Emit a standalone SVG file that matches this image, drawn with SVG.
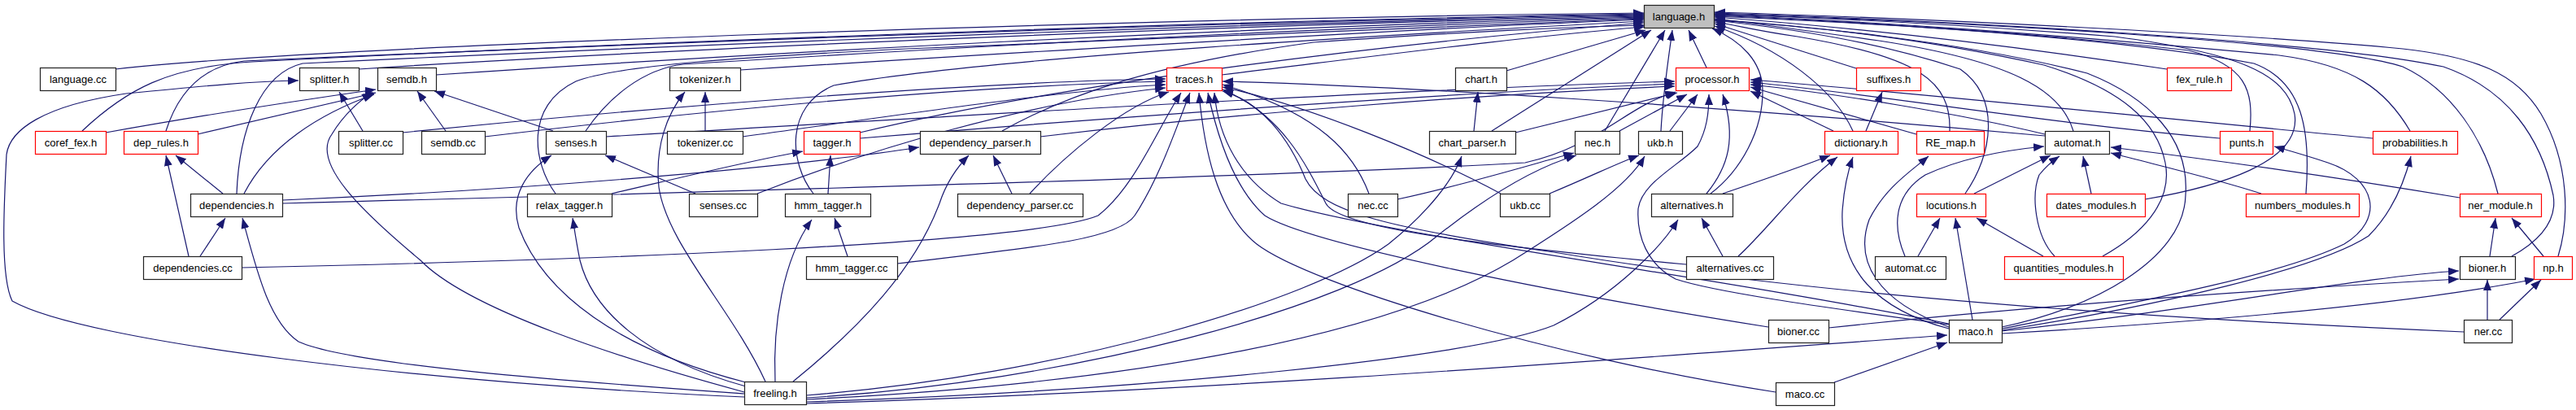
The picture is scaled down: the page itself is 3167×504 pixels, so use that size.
<svg xmlns="http://www.w3.org/2000/svg" width="3167" height="504" viewBox="0 0 3167 504">
<defs>
<marker id="ah" viewBox="0 0 13 10" refX="13" refY="5" markerWidth="13" markerHeight="10" markerUnits="userSpaceOnUse" orient="auto">
<path d="M0,0 L13,5 L0,10 z" fill="#191970"/>
</marker>
<style>
.e{fill:none;stroke:#191970;stroke-width:1.2;marker-end:url(#ah)}
.b{fill:#fff;stroke:#222;stroke-width:1.2}
.r{fill:#fff;stroke:#f00;stroke-width:1.2}
.g{fill:#bfbfbf;stroke:#222;stroke-width:1.2}
text{font-family:"Liberation Sans",Arial,sans-serif;font-size:13px;fill:#000;text-anchor:middle}
</style>
</defs>
<rect width="3167" height="504" fill="#fff"/>
<g id="edges">
<path class="e" d="M142 85 C410 55,1420 22,2021 16"/>
<path class="e" d="M101 161 C155 110,207 82,310 76 C820 50,1520 25,2021 17"/>
<path class="e" d="M204 161 C217 120,243 82,300 75 C820 52,1520 26,2021 18"/>
<path class="e" d="M291 238 C294 160,320 90,372 78 C820 56,1520 28,2021 19"/>
<path class="e" d="M441 85 C820 60,1520 30,2021 20"/>
<path class="e" d="M536 92 C920 66,1520 33,2021 21"/>
<path class="e" d="M720 161 C748 120,790 85,840 79 C1210 56,1620 34,2021 22"/>
<path class="e" d="M683 238 C655 200,645 130,708 100 C760 80,915 70,1115 60 C1520 42,1820 32,2021 23"/>
<path class="e" d="M910 86 C1320 60,1720 36,2021 24"/>
<path class="e" d="M1000 238 C970 200,965 130,1025 105 C1215 70,1720 42,2021 26"/>
<path class="e" d="M1057 163 C1320 100,1720 52,2021 28"/>
<path class="e" d="M1232 161 C1305 120,1410 80,1615 52 C1815 38,1915 34,2022 31"/>
<path class="e" d="M1502 92 C1715 66,1865 46,2022 33"/>
<path class="e" d="M1852 87 L2023 37"/>
<path class="e" d="M1834 161 L2030 37"/>
<path class="e" d="M1973 161 L2047 37"/>
<path class="e" d="M2042 161 C2044 120,2050 80,2056 37"/>
<path class="e" d="M2098 83 L2076 37"/>
<path class="e" d="M2103 238 C2140 210,2168 160,2167 110 C2166 75,2140 50,2105 35"/>
<path class="e" d="M2278 161 C2255 110,2190 60,2108 32"/>
<path class="e" d="M2397 161 C2399 100,2360 70,2210 45 C2160 38,2135 31,2108 27"/>
<path class="e" d="M2282 84 L2108 29"/>
<path class="e" d="M2549 161 C2534 110,2472 75,2310 50 C2210 36,2160 29,2108 23"/>
<path class="e" d="M2416 238 C2450 190,2460 120,2410 85 C2310 52,2210 36,2108 25"/>
<path class="e" d="M2664 85 C2500 60,2310 36,2108 21"/>
<path class="e" d="M2766 161 C2771 110,2761 80,2691 62 C2500 40,2310 29,2108 20"/>
<path class="e" d="M2835 238 C2841 160,2831 100,2771 78 C2600 46,2310 28,2108 19"/>
<path class="e" d="M2637 245 C2725 230,2831 200,2821 140 C2811 90,2751 65,2600 45 C2410 30,2260 22,2108 18"/>
<path class="e" d="M2963 161 C2933 110,2893 80,2802 68 C2500 40,2310 27,2108 18"/>
<path class="e" d="M3071 238 C3054 170,3014 110,2954 82 C2854 50,2410 27,2108 17"/>
<path class="e" d="M3088 315 C3124 295,3144 270,3139 240 C3124 170,3084 110,3004 82 C2854 50,2410 26,2108 16"/>
<path class="e" d="M3145 315 C3159 270,3159 200,3124 140 C3094 90,3044 70,2954 60 C2804 45,2410 24,2108 15"/>
<path class="e" d="M2585 315 C2630 290,2672 250,2662 200 C2652 150,2610 110,2513 80 C2360 46,2210 31,2108 24"/>
<path class="e" d="M2461 402 C2570 380,2685 320,2687 240 C2692 170,2642 120,2566 90 C2410 50,2210 31,2108 25"/>
<path class="e" d="M130 163 C258 140,392 120,462 110"/>
<path class="e" d="M243 165 C330 145,413 125,462 114"/>
<path class="e" d="M300 238 C330 180,392 140,460 116"/>
<path class="e" d="M680 161 L534 112"/>
<path class="e" d="M548 161 L513 112"/>
<path class="e" d="M915 482 C760 440,575 380,517 320 C445 260,382 200,408 165 C423 140,444 122,458 114"/>
<path class="e" d="M446 161 L417 113"/>
<path class="e" d="M915 488 C515 470,103 420,15 370 C0 340,5 250,8 190 C12 160,52 130,155 115 C258 105,310 100,367 99"/>
<path class="e" d="M274 238 L216 191"/>
<path class="e" d="M232 315 L204 191"/>
<path class="e" d="M246 315 L277 268"/>
<path class="e" d="M915 484 C720 470,434 450,367 420 C330 395,315 330,298 268"/>
<path class="e" d="M347 246 C720 230,1010 200,1130 181"/>
<path class="e" d="M867 161 L867 113"/>
<path class="e" d="M941 469 C900 380,820 300,810 230 C805 180,820 140,842 113"/>
<path class="e" d="M855 238 L744 191"/>
<path class="e" d="M917 470 C760 430,668 360,638 280 C626 240,648 210,678 191"/>
<path class="e" d="M752 238 C830 220,910 200,987 186"/>
<path class="e" d="M917 475 C790 440,728 380,713 320 C708 295,706 280,704 268"/>
<path class="e" d="M1018 238 L1021 191"/>
<path class="e" d="M1042 315 L1026 268"/>
<path class="e" d="M953 469 C950 400,962 320,998 270"/>
<path class="e" d="M1244 238 L1221 191"/>
<path class="e" d="M975 469 C1060 400,1125 330,1155 250 C1165 220,1182 200,1191 191"/>
<path class="e" d="M1812 161 L1817 113"/>
<path class="e" d="M991 486 C1310 460,1610 370,1707 300 C1757 260,1787 220,1797 192"/>
<path class="e" d="M1718 245 C1810 225,1890 200,1935 188"/>
<path class="e" d="M991 489 C1310 470,1660 380,1767 290 C1830 240,1890 205,1938 191"/>
<path class="e" d="M1905 238 C1960 215,1990 200,2015 191"/>
<path class="e" d="M991 491 C1410 470,1710 410,1860 320 C1940 270,2000 230,2022 192"/>
<path class="e" d="M2118 315 L2092 268"/>
<path class="e" d="M991 494 C1410 480,1810 440,1910 400 C1990 360,2045 300,2063 270"/>
<path class="e" d="M2118 238 C2165 222,2215 205,2250 191"/>
<path class="e" d="M2137 315 C2175 280,2210 230,2259 193"/>
<path class="e" d="M745 168 C1215 140,1720 110,2059 100"/>
<path class="e" d="M1057 170 C1420 140,1820 112,2059 103"/>
<path class="e" d="M1279 168 C1515 140,1815 116,2059 106"/>
<path class="e" d="M347 250 C920 235,1615 215,1875 200 C1965 180,2000 130,2060 113"/>
<path class="e" d="M1863 163 L2062 114"/>
<path class="e" d="M1991 161 L2074 116"/>
<path class="e" d="M2053 161 L2087 116"/>
<path class="e" d="M2098 238 C2125 205,2135 170,2118 116"/>
<path class="e" d="M2396 399 C2260 380,2110 360,2060 343 C2025 325,2012 290,2014 257 C2018 225,2062 205,2087 180 C2098 160,2101 140,2101 116"/>
<path class="e" d="M2254 161 L2152 112"/>
<path class="e" d="M2356 165 L2152 107"/>
<path class="e" d="M2514 165 C2410 140,2260 115,2152 104"/>
<path class="e" d="M2729 170 C2500 150,2310 116,2152 101"/>
<path class="e" d="M2917 170 C2600 140,2310 110,2152 98"/>
<path class="e" d="M495 163 C820 130,1215 100,1433 97"/>
<path class="e" d="M596 168 C915 130,1215 105,1433 100"/>
<path class="e" d="M913 168 C1115 140,1315 110,1433 104"/>
<path class="e" d="M931 238 C1065 185,1265 125,1433 108"/>
<path class="e" d="M1266 238 C1310 190,1382 130,1437 113"/>
<path class="e" d="M297 329 C720 320,1265 300,1350 265 C1395 230,1422 160,1452 114"/>
<path class="e" d="M1103 324 C1265 305,1375 295,1395 265 C1425 220,1445 160,1463 114"/>
<path class="e" d="M1845 238 C1755 190,1610 130,1503 107"/>
<path class="e" d="M1683 238 C1665 190,1625 140,1503 104"/>
<path class="e" d="M2514 167 C2110 130,1710 105,1503 100"/>
<path class="e" d="M2073 325 C1810 300,1645 280,1630 250 C1605 200,1575 140,1503 110"/>
<path class="e" d="M2174 402 C1910 360,1610 300,1555 265 C1515 230,1495 160,1485 114"/>
<path class="e" d="M2183 482 C1910 440,1610 350,1545 300 C1495 260,1480 180,1474 114"/>
<path class="e" d="M3029 408 C2610 390,2210 360,1910 310 C1705 280,1625 260,1605 220 C1585 170,1550 125,1503 112"/>
<path class="e" d="M2396 398 C2110 340,1710 290,1575 250 C1525 220,1498 170,1493 114"/>
<path class="e" d="M2294 161 L2314 113"/>
<path class="e" d="M2342 315 C2327 280,2327 240,2367 215 C2410 195,2460 185,2513 180"/>
<path class="e" d="M2358 315 L2385 268"/>
<path class="e" d="M2512 315 L2430 268"/>
<path class="e" d="M2526 315 C2502 290,2497 240,2507 215 C2515 205,2523 198,2532 192"/>
<path class="e" d="M2427 238 L2521 191"/>
<path class="e" d="M2571 238 L2561 192"/>
<path class="e" d="M2780 238 C2725 220,2660 205,2595 188"/>
<path class="e" d="M3024 243 C2855 215,2710 195,2595 181"/>
<path class="e" d="M991 496 C1510 480,2010 440,2394 412"/>
<path class="e" d="M2255 470 L2394 421"/>
<path class="e" d="M2396 404 C2305 380,2262 330,2265 260 C2267 230,2272 210,2278 193"/>
<path class="e" d="M2396 402 C2306 370,2280 320,2298 270 C2318 230,2350 210,2371 192"/>
<path class="e" d="M2425 393 L2404 268"/>
<path class="e" d="M2461 404 C2610 375,2801 340,2882 300 C2932 270,2922 220,2862 200 C2832 190,2817 186,2796 180"/>
<path class="e" d="M2461 406 C2660 375,2851 330,2912 290 C2942 260,2957 220,2964 192"/>
<path class="e" d="M2461 407 C2710 380,2902 340,3023 333"/>
<path class="e" d="M2248 403 C2510 375,2805 355,3023 343"/>
<path class="e" d="M2461 410 C2810 390,3005 365,3117 343"/>
<path class="e" d="M3058 393 L3058 344"/>
<path class="e" d="M3073 393 L3124 344"/>
<path class="e" d="M3061 315 L3068 268"/>
<path class="e" d="M3127 315 L3088 268"/>
</g>
<g id="n_language_h"><rect class="g" x="2021.5" y="6.5" width="86" height="28"/><text x="2064" y="25">language.h</text></g>
<g id="n_language_cc"><rect class="b" x="49.5" y="83.5" width="93" height="28"/><text x="96" y="102">language.cc</text></g>
<g id="n_splitter_h"><rect class="b" x="368.5" y="83.5" width="73" height="28"/><text x="405" y="102">splitter.h</text></g>
<g id="n_semdb_h"><rect class="b" x="464.5" y="83.5" width="72" height="28"/><text x="500" y="102">semdb.h</text></g>
<g id="n_tokenizer_h"><rect class="b" x="823.5" y="83.5" width="87" height="28"/><text x="867" y="102">tokenizer.h</text></g>
<g id="n_traces_h"><rect class="r" x="1434.5" y="83.5" width="68" height="28"/><text x="1468" y="102">traces.h</text></g>
<g id="n_chart_h"><rect class="b" x="1789.5" y="83.5" width="63" height="28"/><text x="1821" y="102">chart.h</text></g>
<g id="n_processor_h"><rect class="r" x="2060.5" y="83.5" width="90" height="28"/><text x="2105" y="102">processor.h</text></g>
<g id="n_suffixes_h"><rect class="r" x="2282.5" y="83.5" width="79" height="28"/><text x="2322" y="102">suffixes.h</text></g>
<g id="n_fex_rule_h"><rect class="r" x="2664.5" y="83.5" width="79" height="28"/><text x="2704" y="102">fex_rule.h</text></g>
<g id="n_coref_fex_h"><rect class="r" x="43.5" y="161.5" width="87" height="28"/><text x="87" y="180">coref_fex.h</text></g>
<g id="n_dep_rules_h"><rect class="r" x="152.5" y="161.5" width="91" height="28"/><text x="198" y="180">dep_rules.h</text></g>
<g id="n_splitter_cc"><rect class="b" x="416.5" y="161.5" width="79" height="28"/><text x="456" y="180">splitter.cc</text></g>
<g id="n_semdb_cc"><rect class="b" x="518.5" y="161.5" width="78" height="28"/><text x="557" y="180">semdb.cc</text></g>
<g id="n_senses_h"><rect class="b" x="671.5" y="161.5" width="74" height="28"/><text x="708" y="180">senses.h</text></g>
<g id="n_tokenizer_cc"><rect class="b" x="820.5" y="161.5" width="93" height="28"/><text x="867" y="180">tokenizer.cc</text></g>
<g id="n_tagger_h"><rect class="r" x="988.5" y="161.5" width="69" height="28"/><text x="1023" y="180">tagger.h</text></g>
<g id="n_dependency_parser_h"><rect class="b" x="1131.5" y="161.5" width="148" height="28"/><text x="1205" y="180">dependency_parser.h</text></g>
<g id="n_chart_parser_h"><rect class="b" x="1757.5" y="161.5" width="106" height="28"/><text x="1810" y="180">chart_parser.h</text></g>
<g id="n_nec_h"><rect class="b" x="1936.5" y="161.5" width="55" height="28"/><text x="1964" y="180">nec.h</text></g>
<g id="n_ukb_h"><rect class="b" x="2014.5" y="161.5" width="54" height="28"/><text x="2041" y="180">ukb.h</text></g>
<g id="n_dictionary_h"><rect class="r" x="2243.5" y="161.5" width="90" height="28"/><text x="2288" y="180">dictionary.h</text></g>
<g id="n_RE_map_h"><rect class="r" x="2356.5" y="161.5" width="83" height="28"/><text x="2398" y="180">RE_map.h</text></g>
<g id="n_automat_h"><rect class="b" x="2514.5" y="161.5" width="79" height="28"/><text x="2554" y="180">automat.h</text></g>
<g id="n_punts_h"><rect class="r" x="2729.5" y="161.5" width="65" height="28"/><text x="2762" y="180">punts.h</text></g>
<g id="n_probabilities_h"><rect class="r" x="2917.5" y="161.5" width="104" height="28"/><text x="2969" y="180">probabilities.h</text></g>
<g id="n_dependencies_h"><rect class="b" x="234.5" y="238.5" width="113" height="28"/><text x="291" y="257">dependencies.h</text></g>
<g id="n_relax_tagger_h"><rect class="b" x="648.5" y="238.5" width="104" height="28"/><text x="700" y="257">relax_tagger.h</text></g>
<g id="n_senses_cc"><rect class="b" x="847.5" y="238.5" width="84" height="28"/><text x="889" y="257">senses.cc</text></g>
<g id="n_hmm_tagger_h"><rect class="b" x="965.5" y="238.5" width="105" height="28"/><text x="1018" y="257">hmm_tagger.h</text></g>
<g id="n_dependency_parser_cc"><rect class="b" x="1177.5" y="238.5" width="154" height="28"/><text x="1254" y="257">dependency_parser.cc</text></g>
<g id="n_nec_cc"><rect class="b" x="1657.5" y="238.5" width="61" height="28"/><text x="1688" y="257">nec.cc</text></g>
<g id="n_ukb_cc"><rect class="b" x="1844.5" y="238.5" width="61" height="28"/><text x="1875" y="257">ukb.cc</text></g>
<g id="n_alternatives_h"><rect class="b" x="2030.5" y="238.5" width="100" height="28"/><text x="2080" y="257">alternatives.h</text></g>
<g id="n_locutions_h"><rect class="r" x="2356.5" y="238.5" width="85" height="28"/><text x="2399" y="257">locutions.h</text></g>
<g id="n_dates_modules_h"><rect class="r" x="2516.5" y="238.5" width="121" height="28"/><text x="2577" y="257">dates_modules.h</text></g>
<g id="n_numbers_modules_h"><rect class="r" x="2761.5" y="238.5" width="139" height="28"/><text x="2831" y="257">numbers_modules.h</text></g>
<g id="n_ner_module_h"><rect class="r" x="3024.5" y="238.5" width="100" height="28"/><text x="3074" y="257">ner_module.h</text></g>
<g id="n_dependencies_cc"><rect class="b" x="176.5" y="315.5" width="121" height="28"/><text x="237" y="334">dependencies.cc</text></g>
<g id="n_hmm_tagger_cc"><rect class="b" x="991.5" y="315.5" width="112" height="28"/><text x="1047" y="334">hmm_tagger.cc</text></g>
<g id="n_alternatives_cc"><rect class="b" x="2073.5" y="315.5" width="107" height="28"/><text x="2127" y="334">alternatives.cc</text></g>
<g id="n_automat_cc"><rect class="b" x="2305.5" y="315.5" width="87" height="28"/><text x="2349" y="334">automat.cc</text></g>
<g id="n_quantities_modules_h"><rect class="r" x="2464.5" y="315.5" width="146" height="28"/><text x="2537" y="334">quantities_modules.h</text></g>
<g id="n_bioner_h"><rect class="b" x="3024.5" y="315.5" width="68" height="28"/><text x="3058" y="334">bioner.h</text></g>
<g id="n_np_h"><rect class="r" x="3115.5" y="315.5" width="47" height="28"/><text x="3139" y="334">np.h</text></g>
<g id="n_bioner_cc"><rect class="b" x="2174.5" y="393.5" width="74" height="28"/><text x="2211" y="412">bioner.cc</text></g>
<g id="n_maco_h"><rect class="b" x="2396.5" y="393.5" width="65" height="28"/><text x="2429" y="412">maco.h</text></g>
<g id="n_ner_cc"><rect class="b" x="3029.5" y="393.5" width="59" height="28"/><text x="3059" y="412">ner.cc</text></g>
<g id="n_freeling_h"><rect class="b" x="915.5" y="469.5" width="76" height="28"/><text x="953" y="488">freeling.h</text></g>
<g id="n_maco_cc"><rect class="b" x="2183.5" y="470.5" width="72" height="28"/><text x="2219" y="489">maco.cc</text></g>
</svg>
